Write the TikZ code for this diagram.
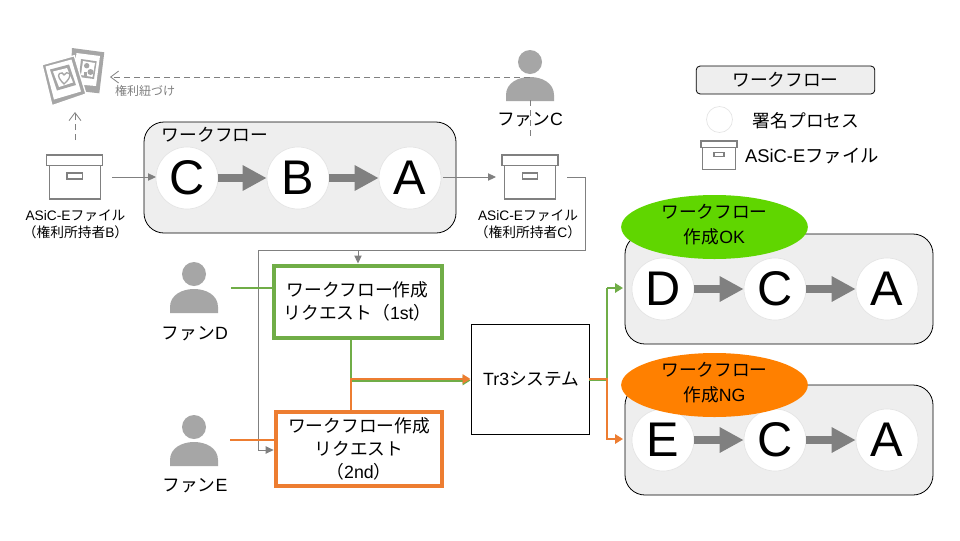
\documentclass[tikz,border=0pt]{standalone}
\usepackage{fontspec}
\setmainfont{Liberation Sans}
\newfontfamily\jpf{Noto Sans CJK JP}
\newcommand{\J}[1]{{\jpf #1}}
\usetikzlibrary{arrows.meta,shapes.geometric}
\definecolor{linegray}{HTML}{808080}
\definecolor{icongray}{HTML}{A6A6A6}
\definecolor{panelgray}{HTML}{EEEEEE}
\definecolor{rimgray}{HTML}{E4E4E4}
\definecolor{okgreen}{HTML}{70AD47}
\definecolor{ngorange}{HTML}{ED7D31}
\definecolor{okfill}{HTML}{60D600}
\definecolor{ngfill}{HTML}{FF8000}
\tikzset{
  x=0.75pt,y=-0.75pt,
  panel/.style={draw=black,line width=0.6pt,fill=panelgray,rounded corners=15pt,inner sep=0pt},
  stepcircle/.style={circle,fill=white,draw=rimgray,line width=0.5pt,minimum size=46.5pt,inner sep=0pt,font=\fontsize{36.5}{40}\selectfont},
  bigarrow/.style={draw=linegray,line width=6pt,-{Triangle[length=18pt,width=18pt]}},
  thin gray/.style={draw=linegray,line width=0.75pt},
  flow/.style={thin gray,-{Triangle[length=6pt,width=5.5pt]}},
  dashflow/.style={draw=linegray,line width=0.6pt,dash pattern=on 4.5pt off 3pt,-{Straight Barb[length=6pt,width=9pt]}},
  dashline/.style={draw=linegray,line width=0.6pt,dash pattern=on 4.5pt off 3pt},
  greenline/.style={draw=okgreen,line width=2pt},
  orangeline/.style={draw=ngorange,line width=1.5pt},
  greenarrow/.style={greenline,-{Triangle[length=6pt,width=7pt]}},
  orangearrow/.style={orangeline,-{Triangle[length=6pt,width=7pt]}},
  lbl/.style={font=\fontsize{13.3}{17}\selectfont,align=center,inner sep=0pt},
  smalllbl/.style={font=\fontsize{10.3}{13}\selectfont,align=center,inner sep=0pt},
  reqgreen/.style={draw=okgreen,line width=3pt,fill=white,lbl,minimum width=126pt,minimum height=54pt},
  reqorange/.style={draw=ngorange,line width=3pt,fill=white,lbl,minimum width=125pt,minimum height=55pt},
  sysbox/.style={draw=black,line width=0.6pt,fill=white,lbl,minimum width=88.5pt,minimum height=83pt},
  badge/.style={ellipse,inner sep=0pt,minimum width=140pt,minimum height=48pt,font=\fontsize{13.3}{18.8}\selectfont,align=center},
  badgetext/.style={font=\fontsize{13.3}{18.8}\selectfont,align=center,inner sep=0pt},
  boxpart/.style={draw=linegray,line width=0.9pt,fill=white},
}
% person icon: #1 name, #2 x, #3 y of head centre
\newcommand{\person}[3]{%
  \node[circle,fill=icongray,minimum size=18pt,inner sep=0pt] (#1) at (#2,#3) {};
  \fill[icongray] (#2-24,#3+39) -- (#2-24,#3+33) .. controls (#2-24,#3+21) and (#2-12,#3+15) .. (#2,#3+15)
    .. controls (#2+12,#3+15) and (#2+24,#3+21) .. (#2+24,#3+33) -- (#2+24,#3+39) -- cycle;
}
% archive box icon: #1 name, #2 centre x, #3 lid top y, #4 scale
\newcommand{\archive}[4]{%
  \begin{scope}[shift={(#2,#3)},x=#4*0.75pt,y=-#4*0.75pt]
  \draw[boxpart] (-25.5,10.5) rectangle (25.5,44);
  \draw[boxpart] (-28,0) rectangle (28,10.5);
  \draw[boxpart] (-7.8,18) rectangle (7.8,24);
  \coordinate (#1) at (0,22);
  \end{scope}
}
\begin{document}
\begin{tikzpicture}
\useasboundingbox[fill=white] (0,0) rectangle (960,540);

% photo icon
\fill[icongray] (72,48) -- (104.3,52.3) -- (99.3,93.3) -- (70,90) -- cycle;
\fill[white] (76.5,53) -- (100,56) -- (96,86) -- (73,84) -- cycle;
\fill[icongray] (81,59) -- (96.7,61.3) -- (94,79) -- (79,77) -- cycle;
\fill[white] (83,61) -- (95,63) -- (92.5,77) -- (81,75) -- cycle;
\fill[icongray] (86.7,65.7) circle (2.7);
\fill[icongray] (90.5,72) circle (3);
\fill[icongray] (84,72) rectangle (87,76);
\filldraw[fill=icongray,draw=white,line width=1pt] (42,64.7) -- (74.3,55.7) -- (86,94) -- (52,105.7) -- cycle;
\fill[white] (45.5,66.5) -- (71.5,59.5) -- (81,91.5) -- (54,99.5) -- cycle;
\fill[icongray] (50,69.5) -- (69,64.5) -- (76,85) -- (57,90.5) -- cycle;
\fill[white] (53,71.5) -- (67,68) -- (73,82.5) -- (59,87) -- cycle;
\draw[icongray,line width=1pt,fill=white] (64,84) .. controls (60,80) and (57,76) .. (59.5,73.5)
   .. controls (61,72) and (63.5,73) .. (64,75) .. controls (65,73) and (68,71.5) .. (69.5,73.5)
   .. controls (71,76.5) and (68,80.5) .. (64,84) -- cycle;
\coordinate (photo) at (75,112);
\coordinate (photoside) at (110,77);

% panels
\node[panel,minimum width=234pt,minimum height=83.25pt] (wf1) at (300,177.5) {};
\node[panel,minimum width=231pt,minimum height=82.5pt] (wf2) at (779,289) {};
\node[panel,minimum width=231pt,minimum height=82.5pt] (wf3) at (779,440) {};
\node[lbl] at (215,135) {\J{ワークフロー}};

% step circles
\foreach \n/\t/\x/\y in {c1/C/187/178,b1/B/298/178,a1/A/410/178,d2/D/663/289,c2/C/775/289,a2/A/887/289,e3/E/663/440,c3/C/775/440,a3/A/887/440}
  \node[stepcircle] (\n) at (\x,\y) {\t};
\draw[bigarrow] (c1) -- (b1);
\draw[bigarrow] (b1) -- (a1);
\draw[bigarrow] (d2) -- (c2);
\draw[bigarrow] (c2) -- (a2);
\draw[bigarrow] (e3) -- (c3);
\draw[bigarrow] (c3) -- (a3);

% badges
\node[badge,fill=okfill] (ok) at (714.5,227) {};
\node[badgetext] at (714.5,225) {\J{ワークフロー}\\\J{作成}OK};
\node[badge,fill=ngfill] (ng) at (714.5,385) {};
\node[badgetext] at (714.5,383) {\J{ワークフロー}\\\J{作成}NG};

% people
\person{pC}{530}{62}
\person{pD}{194}{274}
\person{pE}{194}{427}
\node[lbl] (lC) at (530,120) {\J{ファン}C};
\node[lbl] (lD) at (195,334) {\J{ファン}D};
\node[lbl] (lE) at (195,486) {\J{ファン}E};

% archive boxes
\archive{boxB}{74.7}{155}{1}
\archive{boxC}{530}{155}{1}
\archive{boxL}{719}{141}{0.64}
\node[smalllbl] (tB) at (75.5,224.5) {ASiC-E\J{ファイル}\\\J{（権利所持者}B\J{）}};
\node[smalllbl] (tC) at (528,224.5) {ASiC-E\J{ファイル}\\\J{（権利所持者}C\J{）}};

% requests and system
\node[reqgreen] (r1) at (357.5,301.5) {\J{ワークフロー作成}\\\J{リクエスト（}1st\J{）}};
\node[reqorange] (r2) at (359,449) {\J{ワークフロー作成}\\\J{リクエスト}\\\J{（}2nd\J{）}};
\node[sysbox] (sys) at (530,379.5) {\hspace*{2pt}Tr3\J{システム}};

% gray links
\coordinate (jA) at (585,250);
\coordinate (jB) at (258,250);
\coordinate (jC) at (358,250);
\coordinate (bB) at (112,177);
\coordinate (bBin) at (156,177);
\coordinate (aout) at (443,177);
\coordinate (bCin) at (496,177);
\coordinate (bCout) at (567,177);
\draw[flow] (bB) -- (bBin);
\draw[flow] (aout) -- (bCin);
\draw[thin gray] (bCout) -| (jA) -- (jB);
\draw[flow] (jC) -- (r1.north -| jC);
\draw[flow] (jB) |- (r2.west |- 0,450);

% dashed links
\draw[dashflow] (pC |- 0,77) -- (photoside);
\draw[dashline] (530,100) -- (530,140);
\draw[dashflow] (75,140) -- (photo);
\node[font=\fontsize{9}{10}\selectfont,text=linegray,inner sep=0pt] (tie) at (145,91) {\J{権利紐づけ}};

% coloured links
\coordinate (gJ) at (351,380.5);
\coordinate (oJ) at (350.5,379);
\coordinate (outJ) at (607,379);
\draw[greenline] (231,288) -- (r1.west |- 0,288);
\draw[orangeline] (230,440) -- (r2.west |- 0,440);
\draw[greenarrow] (r1.south -| gJ) -- (gJ) -- (470.5,380.5);
\draw[orangearrow] (r2.north -| oJ) -- (oJ) -- (470.5,379);
\draw[greenline] (sys.east |- 0,380) -- (607,380) -- (607,288);
\draw[greenarrow] (607,288) -- (623,288);
\draw[orangearrow] (sys.east |- outJ) -- (outJ) -- (607,439) -- (623,439);

% legend
\node[draw=black,line width=0.6pt,fill=panelgray,rounded corners=3pt,minimum width=134pt,minimum height=21pt,lbl] (leg) at (785.5,80) {\J{ワークフロー}};
\node[circle,fill=white,draw=rimgray,line width=0.5pt,minimum size=19.5pt,inner sep=0pt] (legc) at (719.5,119.5) {};
\node[lbl] at (806,121) {\J{署名プロセス}};
\node[lbl,font=\fontsize{13.8}{17}\selectfont] at (812,156) {ASiC-E\J{ファイル}};
\end{tikzpicture}
\end{document}
